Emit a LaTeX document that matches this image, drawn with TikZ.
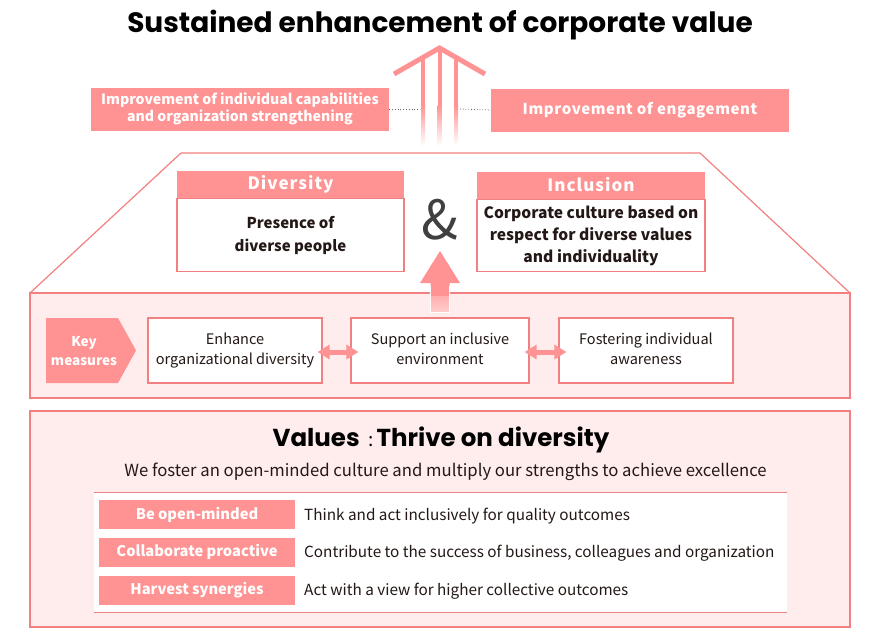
\documentclass[tikz,border=0pt]{standalone}
\usepackage{fontspec}
\setmainfont{Noto Sans CJK JP}
\newfontfamily\titlefont{Poppins}
\usetikzlibrary{arrows.meta}
\definecolor{pk}{RGB}{255,146,146}
\definecolor{pkline}{RGB}{243,128,128}
\definecolor{pklight}{RGB}{255,237,237}
\definecolor{txt}{RGB}{35,24,21}
\tikzset{
  pkbox/.style={fill=pk, text=white, inner sep=0pt, align=center, font=\bfseries\fontsize{14.1}{17.5}\selectfont},
  headbox/.style={fill=pk, text=white, inner sep=0pt, minimum height=27, font=\bfseries\fontsize{17}{20}\selectfont\addfontfeature{LetterSpace=6}},
  bodybox/.style={draw=pkline, line width=1.2, fill=white, inner sep=0pt, align=center, text=txt, font=\bfseries\fontsize{15}{22.5}\selectfont},
  measure/.style={draw=pkline, line width=1.2, fill=white, inner sep=0pt, align=center, text=txt, minimum height=65, font=\fontsize{14.5}{20}\selectfont},
  dbl/.style={pk, line width=5, {Triangle[width=14pt,length=12pt]}-{Triangle[width=14pt,length=12pt]}},
  label/.style={fill=pk, text=white, inner sep=0pt, minimum width=196, minimum height=29, font=\bfseries\fontsize{14.7}{16}\selectfont},
  desc/.style={anchor=west, text=txt, inner sep=0pt, font=\fontsize{15.3}{18}\selectfont},
  dotline/.style={dotted, line width=0.8, black!60},
  panel/.style={draw=pkline, line width=1.5, fill=pklight},
}
\begin{document}
\begin{tikzpicture}[x=1pt,y=-1pt]
\useasboundingbox[fill=white] (0,0) rectangle (880,632);

% Title
\node[font=\titlefont\bfseries\fontsize{28}{32}\selectfont, text=black] (title) at (440,25) {Sustained enhancement of corporate value};

% Upward roof arrow
\draw[pk, line width=5, line join=miter] (394,74) -- (439.5,48) -- (485,74);
\foreach \x/\t in {423/57, 439.5/48, 456/57} {
  \fill[pk] (\x-2,\t) rectangle (\x+2,105);
  \shade[top color=pk, bottom color=white] (\x-2,105) rectangle (\x+2,146);
}

% Top boxes
\node[pkbox, minimum width=298, minimum height=43] (lbox) at (240,109) {Improvement of individual capabilities\\and organization strengthening};
\node[pkbox, minimum width=298, minimum height=43, font=\bfseries\fontsize{15}{18}\selectfont\addfontfeature{LetterSpace=4}] (rbox) at (640,110) {Improvement of engagement};
\coordinate (ldot) at (420,109);
\coordinate (rdot) at (460,109);
\draw[dotline] (lbox.east) -- (ldot);
\draw[dotline] (rdot) -- (rbox.west);

% House outline
\draw[pkline, line width=1.2, fill=white] (30,293) -- (181,153) -- (700,153) -- (850,293);
\draw[panel, line width=1.2] (30,293) rectangle (850,398);

% Diversity & Inclusion
\node[headbox, minimum width=227] (divh) at (290.5,184) {Diversity};
\node[bodybox, minimum width=227, minimum height=73, anchor=north] (divb) at ([yshift=-0.5pt]divh.south) {Presence of\\diverse people};
\node[headbox, minimum width=228] (inch) at (591,185) {Inclusion};
\node[bodybox, minimum width=228, minimum height=72, anchor=north, font=\bfseries\fontsize{15.6}{22}\selectfont] (incb) at ([yshift=-0.5pt]inch.south) {Corporate culture based on\\respect for diverse values\\and individuality};
\node[text=black!75, font=\fontsize{54}{54}\selectfont] (amp) at (440,220) {\&};

% Up arrow
\shade[top color=pk, bottom color=pk!45, draw=white, line width=0.8] (430.5,312) -- (430.5,283) -- (449.5,283) -- (449.5,312) -- cycle;
\fill[pk] (430.5,286) -- (430.5,283) -- (420,283) -- (440,251) -- (460,283) -- (449.5,283) -- (449.5,286) -- cycle;
\fill[pk] (431,282) rectangle (449,296);

% Key measures
\fill[pk] (46,318) -- (118,318) -- (136,350.5) -- (118,383) -- (46,383) -- cycle;
\node[text=white, align=center, font=\bfseries\fontsize{13.5}{19}\selectfont] (key) at (84,351) {Key\\measures};
\node[measure, minimum width=174] (m1) at (235,350.5) {\raisebox{-2pt}{\begin{tabular}{@{}c@{}}Enhance\\organizational diversity\end{tabular}}};
\node[measure, minimum width=178] (m2) at (440,350.5) {\raisebox{-2pt}{\begin{tabular}{@{}c@{}}Support an inclusive\\environment\end{tabular}}};
\node[measure, minimum width=174] (m3) at (646,350.5) {\raisebox{-2pt}{\begin{tabular}{@{}c@{}}Fostering individual\\awareness\end{tabular}}};
\draw[dbl] ([xshift=-5pt,yshift=-1.5pt]m1.east) -- ([xshift=8pt,yshift=-1.5pt]m2.west);
\draw[dbl] ([xshift=-5pt,yshift=-1.5pt]m2.east) -- ([xshift=8pt,yshift=-1.5pt]m3.west);

% Values panel
\draw[panel] (30,411) rectangle (850,627);
\node[text=black, font=\titlefont\bfseries\fontsize{24.5}{28}\selectfont] (vt) at (441,440) {Values {\normalfont\fontsize{19}{22}\selectfont\,:\,}Thrive on diversity};
\node[text=txt, font=\fontsize{16.7}{20}\selectfont] (vs) at (445.5,471.5) {We foster an open-minded culture and multiply our strengths to achieve excellence};
\fill[white] (94,492) rectangle (787,612);
\draw[pkline, line width=0.8] (94,492) -- (787,492);
\draw[pkline, line width=0.8] (94,612) -- (787,612);
\node[label] (l1) at (197,514.5) {Be open-minded};
\node[label] (l2) at (197,552) {Collaborate proactive};
\node[label] (l3) at (197,590) {Harvest synergies};
\node[desc] (d1) at (304,516) {Think and act inclusively for quality outcomes};
\node[desc] (d2) at (304,553.5) {Contribute to the success of business, colleagues and organization};
\node[desc] (d3) at (304,591.5) {Act with a view for higher collective outcomes};
\end{tikzpicture}
\end{document}
